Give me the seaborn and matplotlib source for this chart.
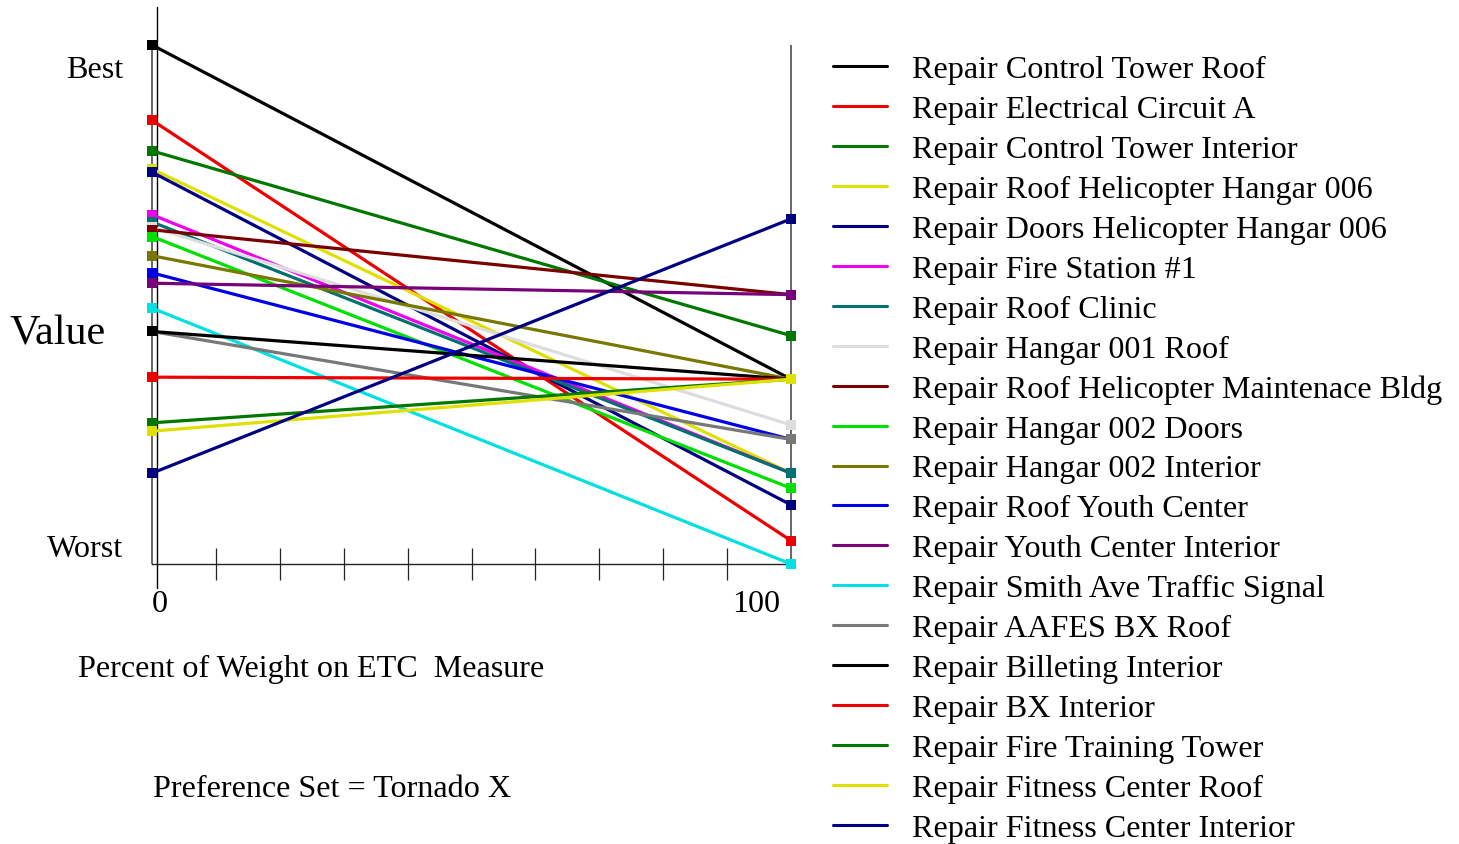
import matplotlib
matplotlib.use("Agg")
import matplotlib.pyplot as plt
from matplotlib.lines import Line2D
import seaborn as sns
import pandas as pd

sns.set_theme(style="white")
plt.rcParams['font.family'] = ['Liberation Serif', 'DejaVu Serif']
plt.rcParams['text.color'] = 'black'

# ---- data ----
alternatives = [
    "Repair Control Tower Roof",
    "Repair Electrical Circuit A",
    "Repair Control Tower Interior",
    "Repair Roof Helicopter Hangar 006",
    "Repair Doors Helicopter Hangar 006",
    "Repair Fire Station #1",
    "Repair Roof Clinic",
    "Repair Hangar 001 Roof",
    "Repair Roof Helicopter Maintenace Bldg",
    "Repair Hangar 002 Doors",
    "Repair Hangar 002 Interior",
    "Repair Roof Youth Center",
    "Repair Youth Center Interior",
    "Repair Smith Ave Traffic Signal",
    "Repair AAFES BX Roof",
    "Repair Billeting Interior",
    "Repair BX Interior",
    "Repair Fire Training Tower",
    "Repair Fitness Center Roof",
    "Repair Fitness Center Interior",
]
weights = [0, 100]
value_at_0 = [1.000, 0.855, 0.796, 0.761, 0.755, 0.673, 0.659, 0.649, 0.644, 0.631,
              0.594, 0.561, 0.541, 0.493, 0.448, 0.448, 0.360, 0.272, 0.256, 0.175]
value_at_100 = [0.356, 0.045, 0.440, 0.175, 0.114, 0.175, 0.175, 0.268, 0.519, 0.146,
                0.356, 0.240, 0.519, 0.000, 0.240, 0.356, 0.356, 0.356, 0.356, 0.665]
colors = ["#000000", "#ee0000", "#007800", "#e0e000", "#000080", "#ee00ee", "#007070",
          "#dddddd", "#7a0000", "#00e000", "#787800", "#0000e8", "#780078", "#00e0e0",
          "#787878", "#000000", "#ee0000", "#007800", "#e0e000", "#000080"]
x_ticks = [10, 20, 30, 40, 50, 60, 70, 80, 90]

rows = []
for name, v0, v1 in zip(alternatives, value_at_0, value_at_100):
    rows.append({"alt": name, "w": weights[0], "v": v0})
    rows.append({"alt": name, "w": weights[1], "v": v1})
df = pd.DataFrame(rows)

W, H = 1459, 845
fig = plt.figure(figsize=(W / 100, H / 100), dpi=100)
ax = fig.add_axes([152 / W, (H - 590) / H, 639 / W, 582 / H])
ax.set_facecolor("white")

# reference axes at 0 and 100
ax.vlines([0, 100], 0, 1, colors="#5a5a5a", linewidth=1.3, zorder=1, clip_on=False)

sns.lineplot(data=df, x="w", y="v", hue="alt", hue_order=alternatives,
             palette=colors, marker="s", markersize=7.3, markeredgewidth=0,
             linewidth=2.3, sort=False, legend=False, ax=ax, zorder=3)
for ln in ax.lines:
    ln.set_clip_on(False)

ax.set_xlim(0, 100)
ax.set_ylim(-25 / 519, 557 / 519)
for s in ["top", "right", "left"]:
    ax.spines[s].set_visible(False)
ax.spines["bottom"].set_position(("data", 0))
ax.spines["bottom"].set_bounds(0, 100)
ax.spines["bottom"].set_color("#222222")
ax.spines["bottom"].set_linewidth(1.0)
ax.set_xticks(x_ticks)
ax.set_xticklabels([])
ax.tick_params(axis="x", direction="inout", length=23, width=0.9, color="#222222", bottom=True)
ax.set_yticks([])
ax.set_xlabel("")
ax.set_ylabel("")
# y axis line
ax.axvline(5 / 6.39, color="black", linewidth=1.0, zorder=2)


def ftext(x, y, s, **kw):
    fig.text(x / W, 1 - y / H, s, color="black", **kw)


FS = 23.1
ftext(123, 67, "Best", fontsize=FS, ha="right", va="center_baseline")
ftext(123, 546, "Worst", fontsize=FS, ha="right", va="center_baseline")
ftext(10, 330, "Value", fontsize=30.4, ha="left", va="center_baseline")
ftext(160, 601, "0", fontsize=FS, ha="center", va="center_baseline")
ftext(756, 601, "100", fontsize=FS, ha="center", va="center_baseline")
ftext(78, 666, "Percent of Weight on ETC  Measure", fontsize=FS, ha="left", va="center_baseline")
ftext(153, 786, "Preference Set = Tornado X", fontsize=FS, ha="left", va="center_baseline")

# legend
for i, (name, c) in enumerate(zip(alternatives, colors)):
    y = 67 + 39.95 * i
    fig.add_artist(Line2D([833 / W, 887 / W], [1 - y / H, 1 - y / H], color=c,
                          linewidth=2.2, transform=fig.transFigure))
    ftext(912, y, name, fontsize=FS, ha="left", va="center_baseline")

fig.savefig("out.png", dpi=100, facecolor="white")
